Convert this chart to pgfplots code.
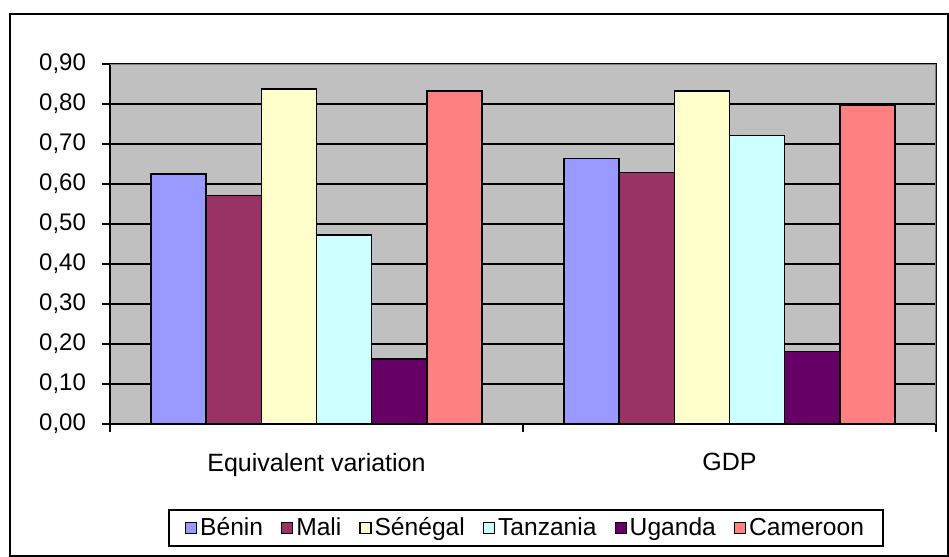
\documentclass[border=0pt]{standalone}
\usepackage{fontspec}
\setmainfont{Liberation Sans}
\usepackage{pgfplots}
\pgfplotsset{compat=1.18}
\definecolor{cBenin}{HTML}{9999FF}
\definecolor{cMali}{HTML}{993366}
\definecolor{cSen}{HTML}{FFFFCC}
\definecolor{cTan}{HTML}{CCFFFF}
\definecolor{cUga}{HTML}{660066}
\definecolor{cCam}{HTML}{FF8080}
\definecolor{bgGray}{HTML}{C0C0C0}
\definecolor{bordGray}{HTML}{808080}
\begin{document}
\begin{tikzpicture}[x=0.5pt,y=0.5pt]
\path (0,0) rectangle (949,557);
\draw[black, line width=0.9pt] (10,543) rectangle (948,1);
\begin{axis}[
  at={(55pt,66.5pt)}, anchor=south west,
  scale only axis, width=413pt, height=180pt,
  xmin=0, xmax=2, ymin=0, ymax=0.9,
  ybar=0pt, bar width=27.6pt,
  xtick={0,1,2}, xticklabels={Equivalent variation,GDP},
  x tick label as interval,
  ytick={0,0.1,...,0.9},
  xtick pos=left, ytick pos=left,
  tick align=outside, major tick length=4pt,
  tick style={black, line width=0.6pt},
  ymajorgrids, grid style={black, line width=0.6pt},
  axis line style={black, line width=0.7pt},
  axis background/.style={fill=bgGray},
  /pgf/number format/.cd, fixed, fixed zerofill, precision=2, use comma, assume math mode=true,
  /pgfplots/.cd,
  yticklabel style={font=\fontsize{12}{14}\selectfont, xshift=-4.5pt},
  xticklabel style={font=\fontsize{12.5}{15}\selectfont, yshift=-7pt},
  legend columns=6,
  legend style={at={(0.5036,-0.289)}, anchor=center, draw=black, line width=0.8pt,
    font=\fontsize{12.3}{14}\selectfont, inner xsep=8pt, inner ysep=1.75pt,
    nodes={inner xsep=1.5pt},
    /tikz/every even column/.append style={column sep=7.5pt}},
  legend image code/.code={\draw[#1, draw=black, line width=0.6pt] (0pt,-2.75pt) rectangle (5.5pt,2.75pt);},
  every axis plot/.append style={draw=black, line width=0.7pt},
]
\addplot[fill=cBenin] coordinates {(0.5,0.625) (1.5,0.663)};
\addplot[fill=cMali] coordinates {(0.5,0.571) (1.5,0.628)};
\addplot[fill=cSen] coordinates {(0.5,0.838) (1.5,0.833)};
\addplot[fill=cTan] coordinates {(0.5,0.472) (1.5,0.721)};
\addplot[fill=cUga] coordinates {(0.5,0.162) (1.5,0.181)};
\addplot[fill=cCam] coordinates {(0.5,0.833) (1.5,0.798)};
\legend{Bénin,Mali,Sénégal,Tanzania,Uganda,Cameroon}
\draw[bordGray, line width=0.9pt] (rel axis cs:0,1) -- (rel axis cs:1,1) -- (rel axis cs:1,0);
\end{axis}
\end{tikzpicture}
\end{document}
